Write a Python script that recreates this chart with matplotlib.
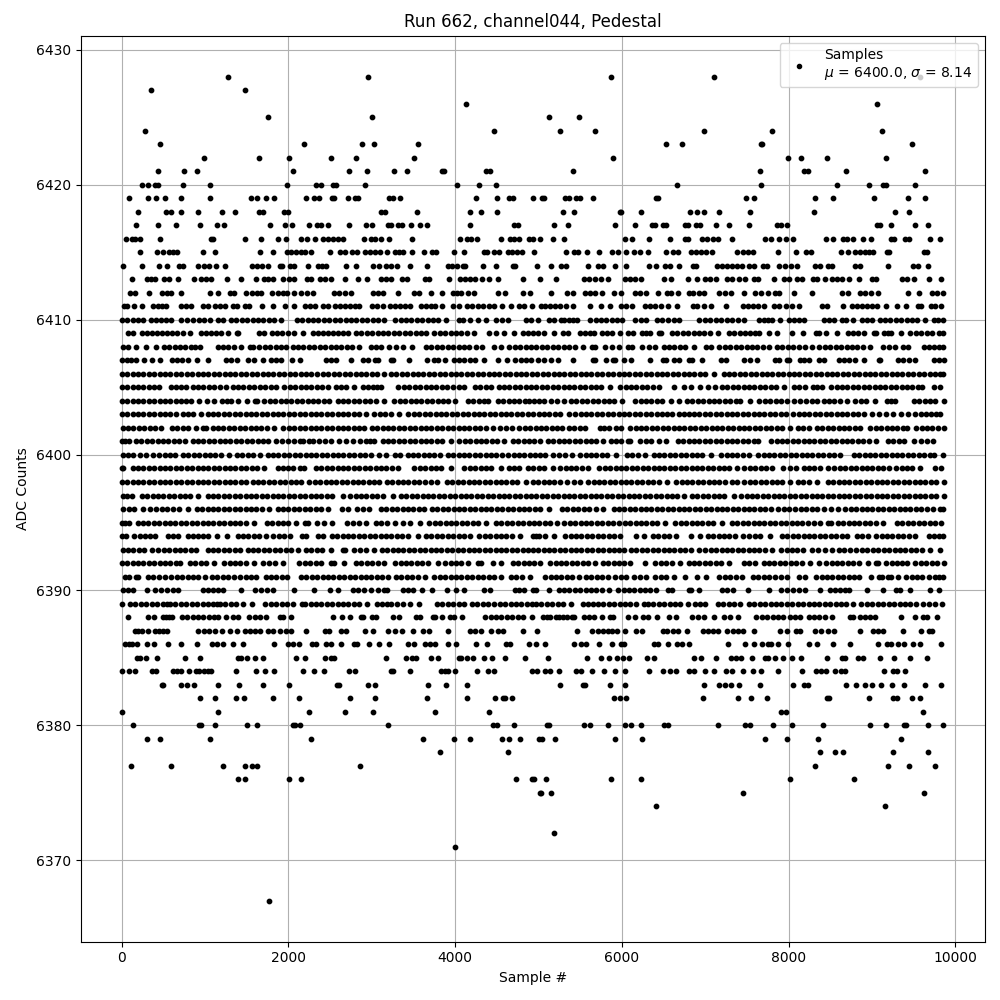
import matplotlib
matplotlib.use("Agg")
import matplotlib.pyplot as plt

# Sample numbers for each ADC level (estimates).
s6428 = [1280, 2960, 5868, 7104, 9580]
s6427 = [356, 1484]
s6426 = [4124, 9060]
s6425 = [1760, 3008, 5124, 5484]
s6424 = [284, 4460, 5256, 5676, 6984, 7800, 9120]
s6423 = [464, 2192, 2888, 3032, 3560, 6528, 6720, 7668, 7680, 9480]
s6422 = [992, 1652, 2012, 2516, 2816, 3512, 5892, 7992, 8148, 8460, 9168]
s6421 = [440, 752, 908, 2060, 2732, 2948, 3272, 3428, 3840, 3872, 4372, 4412, 5412, 7656, 8184, 8232, 8688, 9636]
s6420 = [248, 312, 400, 440, 740, 1064, 1988, 2332, 2388, 2540, 2572, 2924, 4016, 4280, 4484, 6660, 7668, 8580, 8964, 9132, 9164, 9516]
s6419 = [92, 320, 416, 524, 716, 1064, 1556, 1624, 1736, 1832, 2216, 2312, 2372, 2528, 2548, 2720, 2804, 2840, 3208, 3260, 3340, 4244, 4496, 4640, 4688, 4928, 5040, 5060, 5316, 5364, 5448, 5500, 5652, 6404, 6436, 7488, 7584, 8316, 8532, 9024, 9432, 9636]
s6418 = [200, 536, 596, 716, 920, 1208, 1364, 1652, 1700, 1952, 2000, 3116, 3164, 3548, 4172, 4304, 4496, 5292, 5424, 5976, 5992, 6228, 6816, 6900, 6984, 7164, 7536, 8304, 9276, 9444]
s6417 = [176, 440, 656, 944, 1148, 1232, 1784, 1964, 2048, 2252, 2348, 2396, 2480, 2732, 2936, 3008, 3200, 3236, 3320, 3368, 3476, 3584, 3668, 4172, 4700, 4748, 5184, 5352, 5916, 6156, 6360, 6396, 6492, 6528, 6756, 6792, 6888, 6936, 7128, 7284, 7524, 7860, 7908, 7980, 9060, 9096, 9228, 9516, 9672]
s6416 = [56, 128, 164, 224, 464, 1076, 1100, 1484, 1676, 1880, 1976, 2156, 2228, 2324, 2420, 2480, 2540, 2600, 2660, 2912, 2996, 3044, 3116, 3212, 3488, 4052, 4136, 4184, 4256, 4548, 4652, 4700, 4760, 4880, 4928, 5016, 5172, 5304, 6036, 6120, 6324, 6576, 6756, 6792, 6960, 7020, 7092, 7152, 7320, 7716, 7788, 7884, 7968, 8052, 8448, 8532, 8652, 8700, 8772, 8892, 8988, 9228, 9264, 9396, 9444, 9696, 9816]
s6415 = [224, 428, 500, 572, 620, 668, 980, 1124, 1664, 1820, 1988, 2036, 2096, 2156, 2204, 2276, 2504, 2624, 2684, 2768, 2828, 2924, 2984, 3044, 3104, 3188, 3284, 3332, 3380, 3488, 3632, 3728, 3776, 3980, 4100, 4340, 4376, 4460, 4520, 4628, 4684, 4736, 4804, 4940, 5328, 5424, 5472, 5580, 5724, 5880, 5952, 6048, 6144, 6216, 6312, 6528, 6612, 6672, 6828, 6888, 6948, 7008, 7080, 7380, 7452, 7512, 7572, 7872, 8088, 8208, 8268, 8628, 8712, 8796, 8856, 8916, 8964, 9012, 9180, 9204, 9624, 9660]
s6414 = [20, 248, 452, 548, 692, 740, 920, 992, 1052, 1136, 1244, 1568, 1628, 1688, 1760, 1904, 1928, 2024, 2072, 2240, 2360, 2408, 2456, 2696, 2816, 3020, 3092, 3176, 3236, 3308, 3464, 3668, 3920, 3956, 4016, 4088, 4112, 4328, 4484, 4688, 4712, 4976, 5148, 5268, 5328, 5592, 5712, 5772, 5916, 6048, 6324, 6408, 6516, 6576, 6684, 6852, 6888, 7140, 7200, 7260, 7320, 7380, 7440, 7524, 7584, 7692, 7740, 7884, 7956, 8028, 8100, 8316, 8376, 8472, 8520, 8796, 8856, 9192, 9492, 9552, 9672]
s6413 = [128, 308, 356, 404, 512, 572, 680, 872, 956, 1016, 1076, 1268, 1436, 1616, 1712, 1760, 1820, 1940, 2012, 2072, 2228, 2276, 2384, 2444, 2516, 2684, 2840, 2948, 3116, 3176, 3236, 3368, 3428, 3644, 3692, 3932, 4052, 4112, 4172, 4232, 4316, 4400, 4508, 4808, 5012, 5208, 5544, 5604, 5676, 5748, 5832, 6036, 6096, 6156, 6228, 6504, 6588, 6792, 6900, 6996, 7056, 7128, 7260, 7320, 7404, 7476, 7584, 7632, 7824, 7944, 8004, 8100, 8160, 8292, 8340, 8436, 8520, 8580, 8640, 8724, 8844, 9000, 9048, 9360, 9420, 9504, 9684, 9828]
s6412 = [104, 164, 332, 488, 548, 596, 716, 1064, 1160, 1304, 1352, 1496, 1568, 1628, 1676, 1808, 1880, 1940, 1988, 2072, 2156, 2228, 2300, 2552, 2612, 2684, 2756, 3020, 3080, 3140, 3320, 3512, 3572, 3716, 3848, 3968, 4016, 4064, 4148, 4220, 4508, 4592, 4808, 4896, 5148, 5340, 5412, 5556, 5616, 5676, 5760, 5904, 5988, 6156, 6216, 6288, 6432, 6540, 6588, 6672, 6804, 6852, 6924, 6984, 7164, 7236, 7308, 7464, 7596, 7668, 7752, 7836, 7884, 8064, 8280, 8640, 8712, 8856, 8916, 8988, 9072, 9432, 9564, 9720, 9780, 9856]
s6411 = [32, 68, 152, 248, 380, 440, 488, 536, 716, 776, 836, 980, 1040, 1124, 1184, 1244, 1340, 1388, 1484, 1532, 1688, 1820, 1964, 2072, 2204, 2264, 2324, 2420, 2480, 2564, 2624, 2684, 2744, 2804, 2852, 3008, 3068, 3140, 3224, 3284, 3344, 3404, 3464, 3596, 3656, 3716, 3764, 3848, 3968, 4040, 4136, 4196, 4268, 4328, 4400, 4460, 4556, 4664, 4760, 4820, 4916, 5028, 5076, 5136, 5196, 5256, 5328, 5412, 5616, 5748, 5856, 5988, 6048, 6120, 6276, 6336, 6396, 6468, 6552, 6660, 6852, 6900, 6984, 7068, 7248, 7452, 7512, 7572, 7632, 7704, 7824, 7884, 7968, 8040, 8124, 8400, 8460, 8652, 8760, 8820, 8880, 8940, 9000, 9060, 9168, 9300, 9408, 9552, 9588, 9708, 9756, 9828]
s6410 = [0, 65, 130, 190, 250, 350, 415, 470, 530, 590, 710, 780, 860, 925, 990, 1055, 1150, 1220, 1310, 1375, 1440, 1505, 1570, 1635, 1700, 1765, 1830, 1910, 2100, 2160, 2230, 2295, 2360, 2425, 2490, 2555, 2620, 2685, 2750, 2815, 2880, 2945, 3010, 3075, 3150, 3280, 3345, 3410, 3475, 3540, 3605, 3670, 3735, 3800, 3890, 4050, 4090, 4180, 4270, 4370, 4490, 4560, 4630, 4850, 4915, 4990, 5120, 5180, 5270, 5300, 5370, 5410, 5460, 5620, 5685, 5750, 5815, 5880, 5940, 6000, 6160, 6230, 6290, 6420, 6485, 6550, 6620, 6690, 6930, 6995, 7060, 7125, 7190, 7255, 7320, 7390, 7460, 7640, 7700, 7750, 7800, 7900, 8000, 8060, 8120, 8180, 8420, 8480, 8540, 8640, 8690, 8772, 8880, 8940, 9000, 9090, 9155, 9220, 9285, 9350, 9415, 9480, 9545, 9640, 9740, 9795, 9850]
s6409 = [70, 130, 240, 300, 360, 420, 480, 540, 600, 660, 730, 820, 950, 1010, 1070, 1130, 1190, 1270, 1380, 1400, 1650, 1710, 1800, 1860, 1920, 1990, 2068, 2172, 2290, 2350, 2410, 2470, 2530, 2590, 2650, 2720, 2810, 2875, 2940, 3005, 3070, 3135, 3200, 3265, 3330, 3395, 3460, 3525, 3590, 3650, 3750, 3815, 3880, 3945, 4010, 4075, 4140, 4230, 4400, 4490, 4590, 4700, 4810, 4870, 4930, 4990, 5060, 5180, 5290, 5350, 5500, 5560, 5620, 5670, 5760, 5820, 5880, 5980, 6070, 6130, 6240, 6290, 6340, 6440, 6470, 6600, 6665, 6730, 6795, 6860, 6925, 6990, 7055, 7150, 7280, 7340, 7420, 7480, 7540, 7600, 7650, 7760, 7860, 8044, 8172, 8330, 8360, 8444, 8580, 8710, 8770, 8835, 8900, 9020, 9050, 9140, 9190, 9230, 9352, 9460, 9525, 9590, 9655, 9720, 9800, 9856]
s6408 = [12, 80, 170, 288, 408, 508, 570, 635, 700, 765, 830, 885, 940, 1150, 1215, 1280, 1345, 1430, 1540, 1580, 1650, 1715, 1780, 1845, 1910, 1970, 2050, 2115, 2180, 2245, 2310, 2375, 2440, 2505, 2570, 2635, 2700, 2765, 2850, 2990, 3050, 3110, 3210, 3290, 3370, 3480, 3650, 3715, 3780, 3845, 3910, 3975, 4040, 4105, 4170, 4250, 4320, 4470, 4550, 4650, 4715, 4780, 4845, 4910, 4975, 5040, 5105, 5170, 5235, 5300, 5365, 5440, 5532, 5640, 5680, 5800, 5880, 5964, 6070, 6120, 6240, 6320, 6400, 6500, 6565, 6630, 6695, 6760, 6860, 7010, 7070, 7170, 7235, 7300, 7365, 7430, 7495, 7560, 7625, 7690, 7760, 7860, 7925, 7990, 8055, 8120, 8200, 8284, 8370, 8435, 8500, 8565, 8630, 8695, 8760, 8825, 8890, 8980, 9130, 9200, 9270, 9370, 9430, 9620, 9680, 9740, 9800, 9850]
s6407 = [0, 60, 115, 170, 272, 368, 460, 600, 660, 725, 790, 908, 1040, 1250, 1315, 1380, 1510, 1590, 1692, 1790, 1850, 1910, 2048, 2140, 2450, 2510, 2570, 2748, 2900, 2950, 3040, 3070, 3230, 3260, 3452, 3660, 3750, 3790, 3880, 3980, 4045, 4110, 4175, 4240, 4350, 4508, 4620, 4720, 4785, 4850, 4915, 4990, 5070, 5150, 5232, 5412, 5650, 5680, 5812, 5890, 5920, 6024, 6104, 6340, 6490, 6530, 6620, 6690, 6800, 6840, 6960, 7190, 7250, 7470, 7540, 7620, 7840, 7890, 7980, 8000, 8140, 8190, 8240, 8360, 8420, 8600, 8665, 8730, 8800, 8900, 9080, 9100, 9310, 9375, 9440, 9520, 9740, 9800, 9860]
s6406 = [0, 65, 130, 195, 260, 325, 390, 455, 520, 585, 650, 715, 780, 845, 910, 975, 1040, 1105, 1170, 1235, 1300, 1365, 1430, 1495, 1560, 1625, 1690, 1755, 1820, 1885, 1950, 2015, 2080, 2145, 2210, 2275, 2340, 2420, 2480, 2545, 2610, 2675, 2740, 2805, 2870, 2935, 3000, 3065, 3150, 3230, 3295, 3360, 3425, 3490, 3555, 3620, 3685, 3750, 3815, 3880, 3945, 4010, 4075, 4140, 4205, 4270, 4335, 4400, 4465, 4530, 4595, 4660, 4725, 4790, 4855, 4920, 4985, 5050, 5115, 5180, 5245, 5310, 5375, 5440, 5505, 5570, 5635, 5700, 5765, 5830, 5895, 5960, 6025, 6090, 6155, 6220, 6285, 6350, 6415, 6480, 6545, 6610, 6675, 6740, 6805, 6870, 6935, 7000, 7100, 7220, 7285, 7350, 7415, 7480, 7545, 7610, 7675, 7740, 7805, 7870, 7935, 8000, 8065, 8130, 8195, 8260, 8325, 8390, 8455, 8520, 8585, 8650, 8715, 8780, 8845, 8910, 8975, 9040, 9105, 9170, 9235, 9300, 9365, 9430, 9495, 9560, 9625, 9690, 9755, 9820, 9856]
s6405 = [0, 65, 130, 195, 260, 325, 390, 450, 590, 650, 710, 770, 850, 915, 980, 1045, 1110, 1175, 1250, 1330, 1400, 1460, 1525, 1590, 1655, 1720, 1785, 1850, 1950, 2015, 2080, 2145, 2210, 2275, 2340, 2405, 2470, 2570, 2630, 2690, 2790, 2890, 2960, 3010, 3060, 3110, 3320, 3385, 3450, 3515, 3580, 3645, 3710, 3775, 3840, 3905, 3970, 4040, 4110, 4240, 4300, 4365, 4430, 4520, 4585, 4650, 4715, 4780, 4845, 4910, 4975, 5040, 5105, 5170, 5235, 5300, 5365, 5430, 5495, 5560, 5625, 5690, 5755, 5860, 5980, 6045, 6110, 6175, 6240, 6305, 6370, 6450, 6620, 6750, 6830, 6940, 7030, 7120, 7200, 7265, 7330, 7395, 7460, 7525, 7590, 7655, 7720, 7785, 7850, 7950, 8060, 8130, 8200, 8290, 8345, 8400, 8510, 8575, 8640, 8705, 8770, 8835, 8900, 8965, 9030, 9095, 9160, 9225, 9290, 9355, 9420, 9485, 9550, 9600, 9745, 9810]
s6404 = [0, 65, 130, 195, 260, 325, 390, 455, 520, 585, 650, 715, 770, 830, 930, 1020, 1110, 1200, 1260, 1310, 1400, 1500, 1600, 1620, 1710, 1775, 1840, 1905, 1970, 2035, 2100, 2165, 2230, 2295, 2360, 2425, 2490, 2590, 2655, 2720, 2785, 2850, 2915, 2980, 3045, 3150, 3270, 3335, 3400, 3465, 3530, 3595, 3660, 3725, 3790, 3855, 3920, 4000, 4150, 4215, 4280, 4345, 4390, 4510, 4575, 4640, 4705, 4770, 4835, 4880, 4950, 5010, 5070, 5150, 5225, 5300, 5390, 5455, 5520, 5585, 5650, 5715, 5780, 5845, 5910, 6000, 6160, 6225, 6290, 6355, 6420, 6485, 6590, 6680, 6780, 6845, 6910, 6975, 7040, 7105, 7170, 7235, 7300, 7365, 7420, 7532, 7650, 7715, 7780, 7845, 7910, 7975, 8060, 8140, 8210, 8275, 8340, 8420, 8485, 8550, 8615, 8700, 8800, 8865, 8930, 9030, 9180, 9230, 9280, 9500, 9565, 9630, 9695, 9760, 9860]
s6403 = [0, 65, 130, 195, 260, 325, 390, 455, 520, 585, 650, 730, 790, 850, 950, 1030, 1095, 1160, 1225, 1290, 1355, 1420, 1485, 1550, 1615, 1680, 1745, 1810, 1875, 1940, 2005, 2070, 2135, 2200, 2265, 2330, 2395, 2460, 2525, 2590, 2655, 2720, 2785, 2850, 2930, 3030, 3095, 3160, 3225, 3330, 3440, 3505, 3570, 3635, 3700, 3765, 3830, 3895, 3960, 4025, 4090, 4155, 4220, 4285, 4350, 4415, 4480, 4545, 4610, 4675, 4740, 4805, 4870, 4935, 5000, 5065, 5130, 5195, 5260, 5360, 5440, 5505, 5570, 5635, 5700, 5765, 5830, 5895, 5960, 6025, 6090, 6155, 6220, 6285, 6350, 6415, 6480, 6545, 6600, 6680, 6740, 6800, 6865, 6930, 6995, 7060, 7125, 7190, 7255, 7320, 7385, 7450, 7515, 7580, 7645, 7710, 7775, 7840, 7905, 7970, 8050, 8120, 8185, 8250, 8315, 8380, 8445, 8510, 8575, 8640, 8705, 8770, 8835, 8900, 9000, 9080, 9165, 9250, 9350, 9435, 9520, 9590, 9650, 9710, 9770, 9820]
s6402 = [10, 75, 140, 205, 270, 335, 400, 470, 600, 665, 730, 795, 890, 980, 1010, 1090, 1155, 1220, 1285, 1350, 1415, 1480, 1545, 1610, 1675, 1740, 1830, 1940, 2005, 2070, 2135, 2200, 2265, 2330, 2395, 2460, 2525, 2590, 2655, 2720, 2785, 2850, 2910, 3000, 3065, 3130, 3195, 3260, 3325, 3390, 3455, 3520, 3585, 3650, 3715, 3780, 3845, 3910, 3975, 4040, 4105, 4170, 4235, 4300, 4365, 4450, 4540, 4610, 4680, 4770, 4835, 4900, 4965, 5030, 5095, 5160, 5225, 5280, 5360, 5430, 5495, 5560, 5740, 5790, 5840, 5930, 5990, 6100, 6165, 6230, 6295, 6360, 6425, 6490, 6555, 6620, 6685, 6750, 6815, 6880, 6945, 7010, 7075, 7140, 7205, 7270, 7335, 7400, 7465, 7530, 7595, 7660, 7725, 7790, 7855, 7920, 8020, 8110, 8175, 8240, 8340, 8405, 8470, 8535, 8600, 8665, 8730, 8795, 8860, 8980, 9045, 9110, 9175, 9240, 9305, 9370, 9420, 9530, 9595, 9660, 9725, 9790, 9860]
s6401 = [0, 45, 90, 170, 235, 300, 365, 430, 495, 560, 625, 690, 760, 850, 915, 980, 1045, 1110, 1175, 1240, 1305, 1370, 1435, 1500, 1565, 1630, 1695, 1750, 1850, 1925, 2000, 2070, 2140, 2170, 2250, 2290, 2370, 2440, 2510, 2610, 2690, 2770, 2860, 2930, 2980, 3030, 3130, 3195, 3260, 3325, 3390, 3455, 3520, 3585, 3650, 3715, 3780, 3845, 3950, 4050, 4115, 4180, 4245, 4310, 4375, 4440, 4505, 4590, 4690, 4755, 4820, 4885, 4950, 5020, 5110, 5175, 5240, 5305, 5370, 5435, 5500, 5565, 5630, 5695, 5770, 5870, 5930, 5990, 6070, 6100, 6220, 6285, 6350, 6440, 6524, 6670, 6735, 6800, 6865, 6930, 6995, 7060, 7125, 7190, 7255, 7320, 7385, 7450, 7515, 7580, 7630, 7790, 7855, 7920, 7985, 8050, 8115, 8180, 8245, 8310, 8375, 8440, 8505, 8570, 8635, 8700, 8765, 8830, 8895, 8960, 9050, 9190, 9255, 9320, 9385, 9500, 9590, 9660, 9730]
s6400 = [10, 70, 130, 220, 295, 370, 450, 515, 580, 645, 730, 800, 865, 930, 995, 1060, 1125, 1190, 1290, 1380, 1440, 1510, 1570, 1660, 1750, 1815, 1880, 1945, 2010, 2075, 2140, 2205, 2270, 2335, 2400, 2465, 2530, 2595, 2660, 2725, 2790, 2855, 2920, 2985, 3090, 3172, 3280, 3340, 3430, 3495, 3560, 3625, 3690, 3750, 3820, 3910, 3975, 4040, 4105, 4170, 4235, 4300, 4365, 4430, 4495, 4560, 4630, 4700, 4765, 4830, 4895, 4960, 5020, 5080, 5170, 5240, 5320, 5400, 5500, 5565, 5630, 5695, 5760, 5825, 5930, 6060, 6125, 6190, 6280, 6380, 6445, 6510, 6575, 6640, 6705, 6770, 6835, 6900, 6965, 7070, 7190, 7255, 7320, 7385, 7450, 7520, 7632, 7700, 7765, 7830, 7895, 7960, 8025, 8090, 8155, 8220, 8285, 8350, 8415, 8480, 8545, 8620, 8780, 8845, 8910, 8975, 9040, 9105, 9170, 9235, 9300, 9365, 9430, 9495, 9560, 9625, 9690, 9740, 9852]
s6399 = [0, 20, 130, 195, 260, 325, 390, 455, 520, 585, 650, 715, 780, 845, 910, 975, 1040, 1105, 1170, 1235, 1300, 1365, 1430, 1495, 1560, 1625, 1710, 1870, 1930, 1990, 2050, 2140, 2190, 2330, 2395, 2460, 2525, 2590, 2655, 2720, 2785, 2850, 2915, 2980, 3045, 3110, 3175, 3240, 3310, 3510, 3575, 3640, 3705, 3770, 3835, 3950, 4110, 4175, 4240, 4305, 4370, 4435, 4550, 4650, 4710, 4770, 4870, 4935, 5000, 5065, 5170, 5260, 5325, 5390, 5455, 5520, 5590, 5730, 5795, 5860, 5925, 5990, 6055, 6120, 6185, 6250, 6315, 6380, 6445, 6510, 6575, 6640, 6705, 6770, 6835, 6900, 6965, 7030, 7095, 7160, 7225, 7290, 7380, 7470, 7535, 7600, 7665, 7730, 7800, 7932, 8020, 8090, 8180, 8245, 8310, 8375, 8470, 8550, 8615, 8680, 8745, 8810, 8875, 8940, 9005, 9070, 9135, 9200, 9290, 9355, 9420, 9485, 9580, 9750, 9830]
s6398 = [0, 65, 130, 195, 260, 325, 390, 455, 520, 585, 650, 715, 780, 845, 910, 975, 1040, 1105, 1170, 1235, 1300, 1365, 1430, 1490, 1570, 1635, 1700, 1765, 1830, 1895, 1960, 2025, 2090, 2150, 2250, 2315, 2380, 2445, 2510, 2575, 2640, 2705, 2770, 2835, 2900, 2965, 3030, 3090, 3180, 3245, 3310, 3375, 3440, 3505, 3570, 3635, 3710, 3780, 3900, 3965, 4030, 4095, 4160, 4225, 4290, 4355, 4420, 4485, 4550, 4615, 4680, 4745, 4850, 4930, 4995, 5060, 5125, 5190, 5260, 5340, 5420, 5500, 5590, 5660, 5725, 5790, 5855, 5920, 5985, 6050, 6115, 6180, 6245, 6310, 6375, 6440, 6540, 6650, 6715, 6780, 6845, 6910, 6975, 7040, 7105, 7170, 7235, 7320, 7380, 7470, 7535, 7600, 7665, 7730, 7795, 7860, 7920, 8012, 8110, 8175, 8240, 8340, 8470, 8535, 8600, 8665, 8730, 8795, 8860, 8925, 8990, 9055, 9120, 9185, 9250, 9315, 9380, 9445, 9510, 9575, 9640, 9705, 9770, 9860]
s6397 = [10, 65, 120, 240, 305, 370, 435, 500, 565, 630, 695, 760, 825, 910, 1030, 1095, 1160, 1225, 1290, 1355, 1420, 1485, 1550, 1615, 1680, 1745, 1810, 1875, 1940, 2005, 2070, 2135, 2200, 2265, 2330, 2395, 2460, 2525, 2650, 2740, 2805, 2870, 2935, 3000, 3065, 3130, 3250, 3350, 3415, 3480, 3545, 3610, 3675, 3740, 3805, 3870, 3935, 4000, 4065, 4130, 4195, 4260, 4325, 4390, 4455, 4520, 4585, 4650, 4715, 4780, 4845, 4910, 4975, 5040, 5105, 5170, 5235, 5300, 5365, 5430, 5495, 5560, 5625, 5690, 5755, 5820, 5885, 5950, 6015, 6080, 6145, 6210, 6275, 6340, 6405, 6470, 6535, 6600, 6665, 6740, 6840, 6905, 6970, 7035, 7100, 7165, 7230, 7340, 7430, 7495, 7560, 7625, 7690, 7755, 7820, 7885, 7950, 8015, 8080, 8145, 8210, 8275, 8340, 8405, 8470, 8535, 8600, 8665, 8730, 8795, 8860, 8925, 8990, 9055, 9120, 9185, 9250, 9315, 9380, 9445, 9510, 9575, 9640, 9705, 9770, 9860]
s6396 = [20, 85, 150, 250, 340, 415, 480, 545, 610, 690, 796, 900, 965, 1030, 1095, 1160, 1225, 1290, 1355, 1420, 1485, 1550, 1615, 1680, 1770, 1870, 1935, 2000, 2065, 2130, 2195, 2260, 2325, 2390, 2470, 2640, 2710, 2820, 2895, 2970, 3110, 3175, 3240, 3305, 3370, 3435, 3500, 3565, 3630, 3720, 3785, 3850, 3915, 3980, 4045, 4110, 4175, 4240, 4305, 4370, 4435, 4500, 4565, 4630, 4695, 4760, 4825, 4890, 4955, 5020, 5130, 5280, 5345, 5410, 5475, 5540, 5605, 5690, 5772, 5900, 5965, 6030, 6095, 6160, 6225, 6290, 6355, 6420, 6485, 6550, 6615, 6680, 6745, 6810, 6875, 6940, 7005, 7070, 7135, 7200, 7265, 7330, 7395, 7460, 7525, 7590, 7655, 7720, 7785, 7870, 7950, 8000, 8080, 8145, 8210, 8275, 8340, 8420, 8510, 8590, 8680, 8745, 8810, 8875, 8940, 9005, 9070, 9135, 9200, 9265, 9330, 9395, 9460, 9525, 9590, 9655, 9730, 9820, 9856]
s6395 = [0, 45, 90, 190, 255, 320, 385, 450, 515, 580, 645, 710, 775, 840, 905, 970, 1035, 1100, 1165, 1230, 1295, 1360, 1425, 1490, 1590, 1740, 1805, 1870, 1935, 2000, 2090, 2200, 2240, 2340, 2430, 2520, 2700, 2775, 2850, 2930, 3050, 3115, 3180, 3280, 3370, 3460, 3580, 3690, 3755, 3820, 3885, 3950, 4015, 4080, 4145, 4210, 4275, 4370, 4490, 4555, 4620, 4685, 4750, 4815, 4880, 4945, 5010, 5075, 5140, 5220, 5310, 5375, 5440, 5505, 5570, 5635, 5700, 5765, 5830, 5890, 5970, 6035, 6100, 6165, 6230, 6295, 6360, 6425, 6520, 6640, 6705, 6770, 6835, 6900, 6965, 7030, 7095, 7200, 7320, 7385, 7450, 7515, 7580, 7645, 7710, 7775, 7840, 7905, 7970, 8035, 8100, 8165, 8230, 8300, 8380, 8470, 8510, 8590, 8655, 8720, 8785, 8850, 8915, 8980, 9045, 9130, 9300, 9365, 9430, 9495, 9560, 9625, 9690, 9755, 9830]
s6394 = [0, 50, 150, 215, 280, 340, 400, 550, 615, 680, 790, 850, 910, 970, 1040, 1140, 1260, 1390, 1455, 1520, 1585, 1650, 1730, 1820, 1885, 1950, 2020, 2160, 2210, 2360, 2420, 2520, 2585, 2650, 2715, 2780, 2845, 2910, 2975, 3040, 3105, 3170, 3235, 3300, 3365, 3430, 3550, 3650, 3715, 3780, 3845, 3910, 3975, 4040, 4100, 4180, 4290, 4355, 4420, 4485, 4550, 4615, 4680, 4780, 4930, 4970, 5010, 5075, 5180, 5320, 5385, 5450, 5515, 5580, 5645, 5710, 5775, 5840, 5905, 5980, 6170, 6260, 6370, 6435, 6500, 6565, 6650, 6832, 6940, 7030, 7095, 7160, 7225, 7290, 7355, 7450, 7530, 7595, 7660, 7780, 7920, 7985, 8050, 8115, 8180, 8245, 8310, 8375, 8440, 8505, 8570, 8635, 8700, 8820, 8885, 8950, 9050, 9115, 9180, 9245, 9310, 9375, 9440, 9520, 9680, 9740, 9800, 9850]
s6393 = [10, 75, 140, 205, 270, 360, 440, 505, 570, 635, 700, 765, 830, 890, 1030, 1095, 1160, 1225, 1290, 1355, 1420, 1510, 1575, 1640, 1705, 1770, 1835, 1900, 1965, 2030, 2110, 2210, 2275, 2340, 2405, 2510, 2660, 2680, 2790, 2860, 2930, 3032, 3120, 3185, 3250, 3315, 3380, 3445, 3510, 3575, 3640, 3705, 3770, 3835, 3900, 3965, 4030, 4095, 4160, 4225, 4290, 4355, 4420, 4485, 4550, 4615, 4680, 4745, 4810, 4875, 4930, 4995, 5060, 5125, 5190, 5255, 5320, 5385, 5450, 5515, 5580, 5645, 5710, 5775, 5840, 5905, 5970, 6030, 6110, 6175, 6240, 6305, 6370, 6435, 6500, 6565, 6630, 6695, 6760, 6825, 6920, 7000, 7065, 7130, 7195, 7260, 7325, 7390, 7455, 7520, 7585, 7650, 7715, 7800, 7910, 7975, 8040, 8105, 8170, 8280, 8350, 8435, 8520, 8600, 8670, 8740, 8810, 8880, 8945, 9010, 9075, 9140, 9205, 9270, 9335, 9400, 9465, 9530, 9595, 9700, 9812]
s6392 = [0, 65, 130, 195, 260, 325, 390, 455, 520, 585, 650, 700, 820, 885, 950, 1015, 1110, 1230, 1295, 1360, 1425, 1490, 1590, 1692, 1772, 1840, 1940, 2130, 2195, 2260, 2325, 2390, 2510, 2550, 2668, 2810, 2875, 2940, 3005, 3070, 3150, 3280, 3345, 3410, 3475, 3540, 3605, 3670, 3790, 3880, 3945, 4010, 4075, 4150, 4270, 4310, 4450, 4550, 4690, 4755, 4820, 4885, 4950, 5020, 5140, 5205, 5270, 5335, 5400, 5465, 5530, 5595, 5680, 5770, 5835, 5900, 5965, 6030, 6100, 6280, 6400, 6465, 6530, 6595, 6700, 6800, 6865, 6930, 6995, 7060, 7125, 7190, 7280, 7460, 7530, 7600, 7700, 7765, 7830, 7895, 7960, 8025, 8090, 8160, 8260, 8360, 8450, 8515, 8580, 8645, 8710, 8775, 8840, 8950, 9050, 9070, 9170, 9235, 9300, 9365, 9420, 9520, 9585, 9650, 9715, 9780, 9860]
s6391 = [40, 90, 170, 190, 310, 380, 450, 520, 590, 660, 725, 790, 855, 920, 1000, 1080, 1145, 1210, 1275, 1350, 1420, 1485, 1550, 1615, 1730, 1792, 1848, 1920, 1980, 2150, 2215, 2280, 2345, 2410, 2475, 2540, 2605, 2670, 2735, 2800, 2865, 2930, 2995, 3060, 3125, 3190, 3290, 3355, 3420, 3485, 3550, 3640, 3750, 3815, 3880, 3945, 4010, 4075, 4140, 4205, 4270, 4335, 4400, 4465, 4550, 4670, 4735, 4800, 4900, 5080, 5145, 5210, 5275, 5340, 5405, 5490, 5570, 5635, 5700, 5765, 5830, 5920, 5985, 6050, 6140, 6220, 6290, 6400, 6465, 6530, 6630, 6760, 6904, 7012, 7170, 7235, 7300, 7365, 7440, 7570, 7635, 7700, 7770, 7840, 7905, 7980, 8130, 8200, 8330, 8395, 8460, 8525, 8590, 8655, 8720, 8785, 8850, 8984, 9080, 9120, 9190, 9230, 9312, 9410, 9475, 9540, 9605, 9680, 9760, 9805, 9850]
s6390 = [10, 75, 140, 308, 400, 470, 540, 610, 680, 970, 1030, 1090, 1150, 1210, 1428, 1600, 1670, 1745, 1820, 2068, 2308, 2500, 2600, 2770, 2840, 2910, 2990, 3070, 3150, 3180, 3370, 3430, 3490, 3600, 3720, 3900, 4010, 4100, 4340, 4420, 4720, 4770, 4820, 4930, 4970, 5124, 5240, 5305, 5370, 5435, 5500, 5565, 5630, 5695, 5760, 5840, 5950, 6020, 6080, 6150, 6215, 6280, 6340, 6404, 6550, 6600, 6800, 6830, 6924, 7200, 7265, 7330, 7512, 7764, 7910, 7980, 8050, 8125, 8200, 8372, 8500, 8560, 8620, 8680, 8730, 8940, 9132, 9290, 9340, 9452, 9692, 9804]
s6389 = [0, 100, 165, 230, 295, 360, 425, 490, 540, 580, 645, 710, 775, 840, 905, 970, 1035, 1100, 1140, 1180, 1245, 1310, 1375, 1460, 1568, 1724, 1790, 1855, 1920, 1985, 2050, 2160, 2200, 2265, 2330, 2395, 2460, 2525, 2590, 2655, 2720, 2785, 2850, 2940, 3060, 3120, 3180, 3236, 3300, 3380, 3460, 3564, 3780, 3845, 3910, 3975, 4040, 4108, 4200, 4265, 4330, 4395, 4460, 4540, 4600, 4665, 4730, 4795, 4860, 4920, 4972, 5035, 5100, 5165, 5230, 5295, 5392, 5532, 5592, 5652, 5712, 5777, 5842, 5907, 5972, 6037, 6102, 6172, 6264, 6312, 6377, 6442, 6507, 6572, 6637, 6702, 6792, 6872, 6932, 6992, 7152, 7217, 7282, 7347, 7420, 7524, 7589, 7654, 7719, 7784, 7849, 7914, 7979, 8044, 8109, 8174, 8239, 8304, 8369, 8434, 8499, 8564, 8629, 8694, 8772, 8868, 8940, 9005, 9070, 9135, 9200, 9265, 9330, 9392, 9452, 9532, 9612, 9684, 9752, 9840]
s6388 = [80, 320, 392, 500, 530, 572, 600, 720, 785, 850, 915, 980, 1045, 1110, 1160, 1256, 1340, 1400, 1532, 1600, 1664, 1736, 1904, 1940, 2036, 2540, 2648, 2744, 2876, 2900, 3008, 3056, 3260, 3332, 3528, 3584, 3740, 3764, 3848, 3940, 3980, 4084, 4360, 4425, 4490, 4555, 4620, 4685, 4750, 4815, 4920, 5052, 5100, 5140, 5210, 5250, 5290, 5340, 5400, 5430, 5544, 5604, 5664, 5760, 5852, 5892, 6072, 6156, 6252, 6312, 6420, 6564, 6652, 6840, 6912, 6984, 7104, 7224, 7292, 7392, 7612, 7677, 7742, 7807, 7872, 7932, 8016, 8076, 8136, 8244, 8300, 8365, 8432, 8520, 8732, 8772, 8856, 8916, 8976, 9036, 9348, 9516, 9612, 9660, 9780]
s6387 = [160, 200, 240, 320, 404, 450, 500, 548, 920, 985, 1050, 1115, 1200, 1304, 1380, 1484, 1540, 1600, 1660, 1760, 1820, 1904, 1976, 2036, 2216, 2440, 2492, 2628, 2696, 2924, 3020, 3200, 3280, 3368, 3500, 3620, 3692, 3920, 4172, 4232, 4312, 4424, 4508, 4568, 4812, 4976, 5456, 5640, 5712, 5772, 5832, 5880, 5940, 6036, 6168, 6240, 6492, 6540, 6612, 6672, 6780, 6972, 7032, 7092, 7152, 7260, 7332, 7392, 7452, 7584, 7896, 7980, 8092, 8136, 8316, 8388, 8472, 8544, 8860, 9012, 9072, 9132, 9372, 9588, 9684, 9720]
s6386 = [44, 92, 128, 188, 308, 392, 560, 716, 908, 1088, 1144, 1220, 1340, 1460, 1832, 2000, 2060, 2132, 2288, 2332, 2456, 2516, 2636, 2792, 2828, 2972, 3092, 3212, 3440, 3512, 3640, 3700, 3764, 3920, 4004, 4244, 4376, 4608, 4660, 4880, 4964, 5076, 5424, 5508, 5568, 5724, 5880, 5988, 6024, 6384, 6432, 6552, 6660, 6720, 6804, 7272, 7476, 7584, 7680, 7752, 7788, 7872, 7992, 8244, 8340, 8532, 8736, 9072, 9180, 9228, 9312, 9384, 9492, 9576, 9828]
s6385 = [188, 224, 296, 428, 764, 944, 1400, 1436, 1508, 1604, 1700, 2096, 2204, 2444, 2516, 2552, 3176, 3416, 3488, 3536, 3716, 3800, 4040, 4064, 4140, 4208, 4340, 4436, 4592, 4832, 5112, 5580, 5748, 5844, 5940, 6012, 6084, 6300, 6384, 6864, 6948, 7128, 7308, 7368, 7428, 7560, 7716, 7752, 7836, 7932, 8040, 8148, 8460, 8640, 8676, 8832, 8892, 9096, 9264, 9456, 9660]
s6384 = [8, 92, 164, 368, 416, 620, 668, 716, 812, 896, 932, 992, 1040, 1076, 1376, 1616, 1724, 1832, 2180, 2312, 2432, 2732, 2804, 3236, 3260, 3464, 3836, 3884, 3920, 3992, 4256, 4388, 4460, 4916, 4976, 5076, 5136, 5244, 5448, 5508, 5640, 5784, 5916, 6036, 6324, 6492, 6576, 6648, 6804, 6864, 7000, 7104, 7248, 7320, 7452, 7572, 7668, 7872, 8160, 8324, 8388, 8448, 8556, 8628, 8676, 9144, 9252, 9300, 9396]
s6383 = [484, 500, 716, 788, 872, 1160, 1412, 1700, 2012, 2588, 2612, 2960, 3044, 3680, 3896, 4136, 5256, 5532, 5556, 5856, 6036, 6984, 7164, 7236, 7308, 7404, 7656, 8052, 8184, 8232, 8688, 8808, 8916, 9000, 9112, 9240, 9384, 9636, 9828]
s6382 = [944, 1124, 1376, 1472, 1820, 2132, 2744, 3044, 3668, 4136, 4472, 4568, 4592, 4676, 5904, 5976, 6048, 6972, 7392, 7548, 7740, 8460, 8484, 8964, 9252, 9300, 9480, 9576]
s6381 = [8, 1160, 2252, 2684, 3020, 3764, 4400, 7908, 7968, 9612]
s6380 = [140, 932, 948, 1124, 1508, 1628, 2060, 2084, 2144, 3200, 4448, 4496, 4700, 5100, 5124, 5544, 5616, 5832, 6036, 6108, 6228, 6504, 6552, 7152, 7476, 7536, 7812, 8040, 8412, 8976, 9168, 9384, 9408, 9672, 9852]
s6379 = [308, 464, 1064, 2276, 3620, 3980, 4172, 4556, 4640, 4772, 5004, 5040, 5196, 5916, 6240, 7716, 7980, 8352, 9348]
s6378 = [3824, 4628, 8376, 8556, 8652, 9252, 9672]
s6377 = [116, 596, 1220, 1484, 1568, 1628, 2864, 8316, 9192, 9444, 9756]
s6376 = [1400, 1484, 2012, 2156, 4724, 4916, 4940, 5088, 5868, 6228, 8016, 8784]
s6375 = [5012, 5028, 5148, 7452, 9624]
s6374 = [6408, 9156]
s6372 = [5184]
s6371 = [3992]
s6367 = [1772]

rows = {
    6428: s6428, 6427: s6427, 6426: s6426, 6425: s6425, 6424: s6424, 6423: s6423, 6422: s6422,
    6421: s6421, 6420: s6420, 6419: s6419, 6418: s6418, 6417: s6417, 6416: s6416, 6415: s6415,
    6414: s6414, 6413: s6413, 6412: s6412, 6411: s6411, 6410: s6410, 6409: s6409, 6408: s6408,
    6407: s6407, 6406: s6406, 6405: s6405, 6404: s6404, 6403: s6403, 6402: s6402, 6401: s6401,
    6400: s6400, 6399: s6399, 6398: s6398, 6397: s6397, 6396: s6396, 6395: s6395, 6394: s6394,
    6393: s6393, 6392: s6392, 6391: s6391, 6390: s6390, 6389: s6389, 6388: s6388, 6387: s6387,
    6386: s6386, 6385: s6385, 6384: s6384, 6383: s6383, 6382: s6382, 6381: s6381, 6380: s6380,
    6379: s6379, 6378: s6378, 6377: s6377, 6376: s6376, 6375: s6375, 6374: s6374, 6372: s6372,
    6371: s6371, 6367: s6367,
}

samples = []
counts = []
for level, xs in rows.items():
    samples.extend(xs)
    counts.extend([level] * len(xs))

fig, ax = plt.subplots(figsize=(10, 10), dpi=100)
ax.plot(samples, counts, "k.", markersize=6.3, label="Samples\n$\\mu$ = 6400.0, $\\sigma$ = 8.14")
ax.set_title("Run 662, channel044, Pedestal")
ax.set_xlabel("Sample #")
ax.set_ylabel("ADC Counts")
ax.grid(True)
ax.legend(loc="upper right", markerscale=6 / 6.3)
fig.subplots_adjust(left=0.0806, right=0.9848, top=0.9642, bottom=0.0583)
fig.savefig("out.png", dpi=100)
